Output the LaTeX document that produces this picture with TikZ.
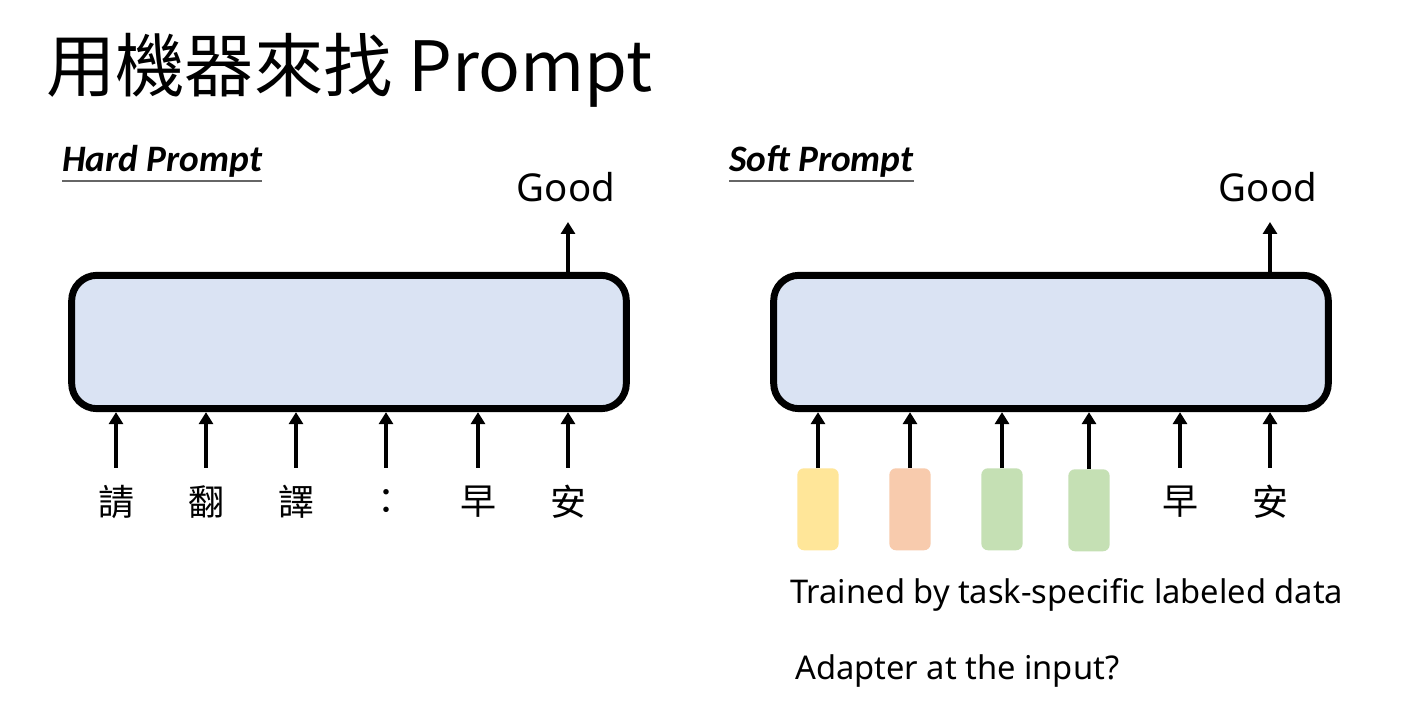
\documentclass[tikz,border=0pt]{standalone}
\usepackage{fontspec}
\setmainfont{Noto Sans}
\newfontfamily\cjk{Noto Sans CJK TC}
\newfontfamily\carl{Carlito}
\usetikzlibrary{arrows.meta,calc}
\definecolor{boxfill}{HTML}{DAE3F3}
\definecolor{softyellow}{HTML}{FFE699}
\definecolor{softorange}{HTML}{F8CBAD}
\definecolor{softgreen}{HTML}{C5E0B4}
\begin{document}
\begin{tikzpicture}[x=0.75pt,y=-0.75pt,
  model/.style={draw=black,line width=5.2pt,fill=boxfill,rounded corners=19pt,minimum width=416pt,minimum height=100pt,inner sep=0pt},
  arr/.style={line width=3pt,-{Triangle[width=10.5pt,length=9pt]}},
  tok/.style={font=\cjk\fontsize{27}{30}\selectfont,minimum height=51pt,inner sep=0pt},
  lbl/.style={font=\fontsize{28.8}{32}\selectfont,inner sep=0pt},
  soft/.style={rounded corners=5pt,minimum width=31pt,minimum height=61.5pt,inner sep=0pt,anchor=north},
  head/.style={font=\carl\bfseries\itshape\fontsize{28}{32}\selectfont,inner sep=0pt,anchor=base west},
  note/.style={font=\fontsize{24.5}{28}\selectfont,inner sep=0pt,anchor=base west}]
\fill[white] (0,0) rectangle (1410,723);
\useasboundingbox (0,0) rectangle (1410,723);
% title
\node[anchor=base west,inner sep=0pt,font=\cjk\fontsize{52}{56}\selectfont] (title) at (46,92) {用機器來找 Prompt};
% Hard prompt
\node[head] (hard) at (62,172) {Hard Prompt};
\draw[gray!80!black,line width=1.5pt] (hard.base west |- 0,181) -- (hard.base east |- 0,181);
\node[model] (L) at (349,342) {};
\foreach \x/\t [count=\i] in {116/請,206/翻,296/譯,386/：,478/早,568/安}{
  \node[tok] (h\i) at (\x,502) {\t};
  \draw[arr] (h\i.north) -- (h\i.north |- L.south);
}
\node[lbl,anchor=base] (g1) at (566,202) {Good};
\coordinate (g1t) at (568,222);
\draw[arr] (L.north -| g1t) -- (g1t);
% Soft prompt
\node[head] (softh) at (729,172) {Soft Prompt};
\draw[gray!80!black,line width=1.5pt] (softh.base west |- 0,181) -- (softh.base east |- 0,181);
\node[model] (R) at (1051,342) {};
\node[soft,fill=softyellow] (s1) at (818,468) {};
\node[soft,fill=softorange] (s2) at (910,468) {};
\node[soft,fill=softgreen] (s3) at (1002,468) {};
\node[soft,fill=softgreen] (s4) at (1089,469) {};
\foreach \i in {1,...,4}{
  \draw[arr] (s\i.north) -- (s\i.north |- R.south);
}
\node[tok] (r5) at (1180,502) {早};
\node[tok] (r6) at (1270,502) {安};
\draw[arr] (r5.north) -- (r5.north |- R.south);
\draw[arr] (r6.north) -- (r6.north |- R.south);
\node[lbl,anchor=base] (g2) at (1268,202) {Good};
\coordinate (g2t) at (1270,222);
\draw[arr] (R.north -| g2t) -- (g2t);
\node[note] (n1) at (790,603) {Trained by task-specific labeled data};
\node[note] (n2) at (795,679) {Adapter at the input?};
\end{tikzpicture}
\end{document}
